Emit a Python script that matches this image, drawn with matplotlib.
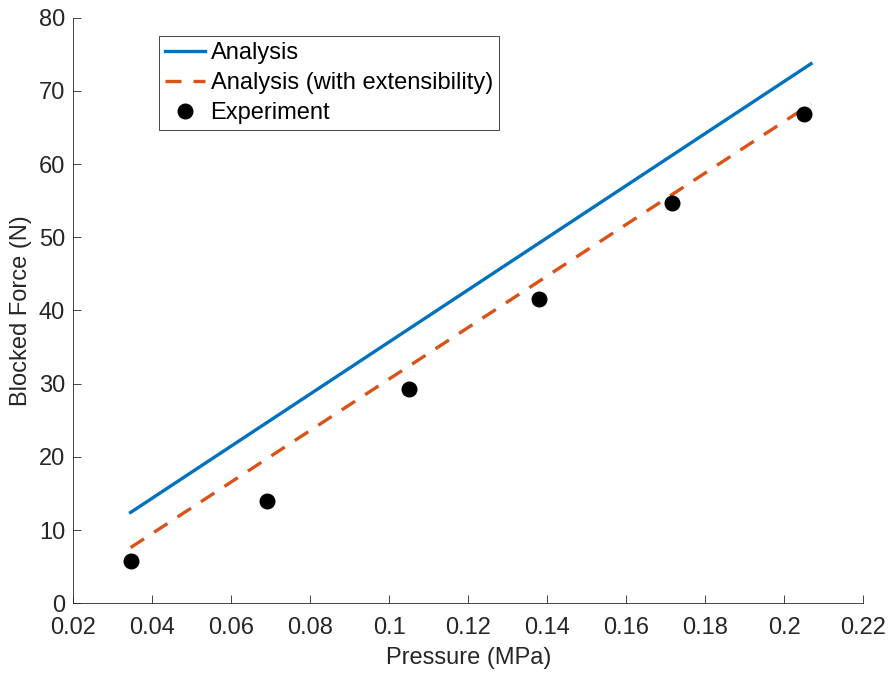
import matplotlib
matplotlib.use("Agg")
import matplotlib.pyplot as plt

plt.rcParams['font.family'] = ['Liberation Sans', 'DejaVu Sans']

# analysis lines (end points)
p_line = [0.0345, 0.2068]
f_analysis = [12.4, 73.7]
f_ext = [7.6, 68.2]

# experiment
p_exp = [0.0345, 0.069, 0.105, 0.138, 0.1715, 0.205]
f_exp = [5.7, 13.9, 29.3, 41.6, 54.7, 66.8]

xticks = [0.02, 0.04, 0.06, 0.08, 0.1, 0.12, 0.14, 0.16, 0.18, 0.2, 0.22]
xlabels = ['0.02', '0.04', '0.06', '0.08', '0.1', '0.12', '0.14', '0.16', '0.18', '0.2', '0.22']
yticks = [0, 10, 20, 30, 40, 50, 60, 70, 80]

fig = plt.figure(figsize=(8.88, 6.77), dpi=100)
ax = fig.add_axes([0.0826, 0.109, 0.8894, 0.865])

ax.plot(p_line, f_analysis, color='#0072BD', lw=2.4, label='Analysis')
ax.plot(p_line, f_ext, color='#D95319', lw=2.4, ls=(0, (4.8, 3.6)),
        label='Analysis (with extensibility)')
ax.plot(p_exp, f_exp, 'o', color='black', ms=10.5, ls='none', label='Experiment')

ax.set_xlim(0.02, 0.22)
ax.set_ylim(0, 80)
ax.set_xticks(xticks)
ax.set_xticklabels(xlabels)
ax.set_yticks(yticks)
ax.spines['top'].set_visible(False)
ax.spines['right'].set_visible(False)
for s in ['left', 'bottom']:
    ax.spines[s].set_color('#262626')
    ax.spines[s].set_linewidth(0.6)
ax.tick_params(direction='in', length=6, width=0.6, colors='#262626', labelsize=17)
ax.tick_params(axis='x', pad=10)
ax.tick_params(axis='y', pad=6)
ax.set_xlabel('Pressure (MPa)', fontsize=17, color='#262626', labelpad=6)
ax.set_ylabel('Blocked Force (N)', fontsize=17, color='#262626', labelpad=5)

leg = ax.legend(loc='upper left', bbox_to_anchor=(0.108, 0.968), fontsize=17,
                fancybox=False, framealpha=1, edgecolor='#262626',
                handlelength=1.7, handletextpad=0.25, borderpad=0.25,
                labelspacing=0.33, borderaxespad=0)
leg.get_frame().set_linewidth(0.6)

fig.savefig('out.png', dpi=100)
